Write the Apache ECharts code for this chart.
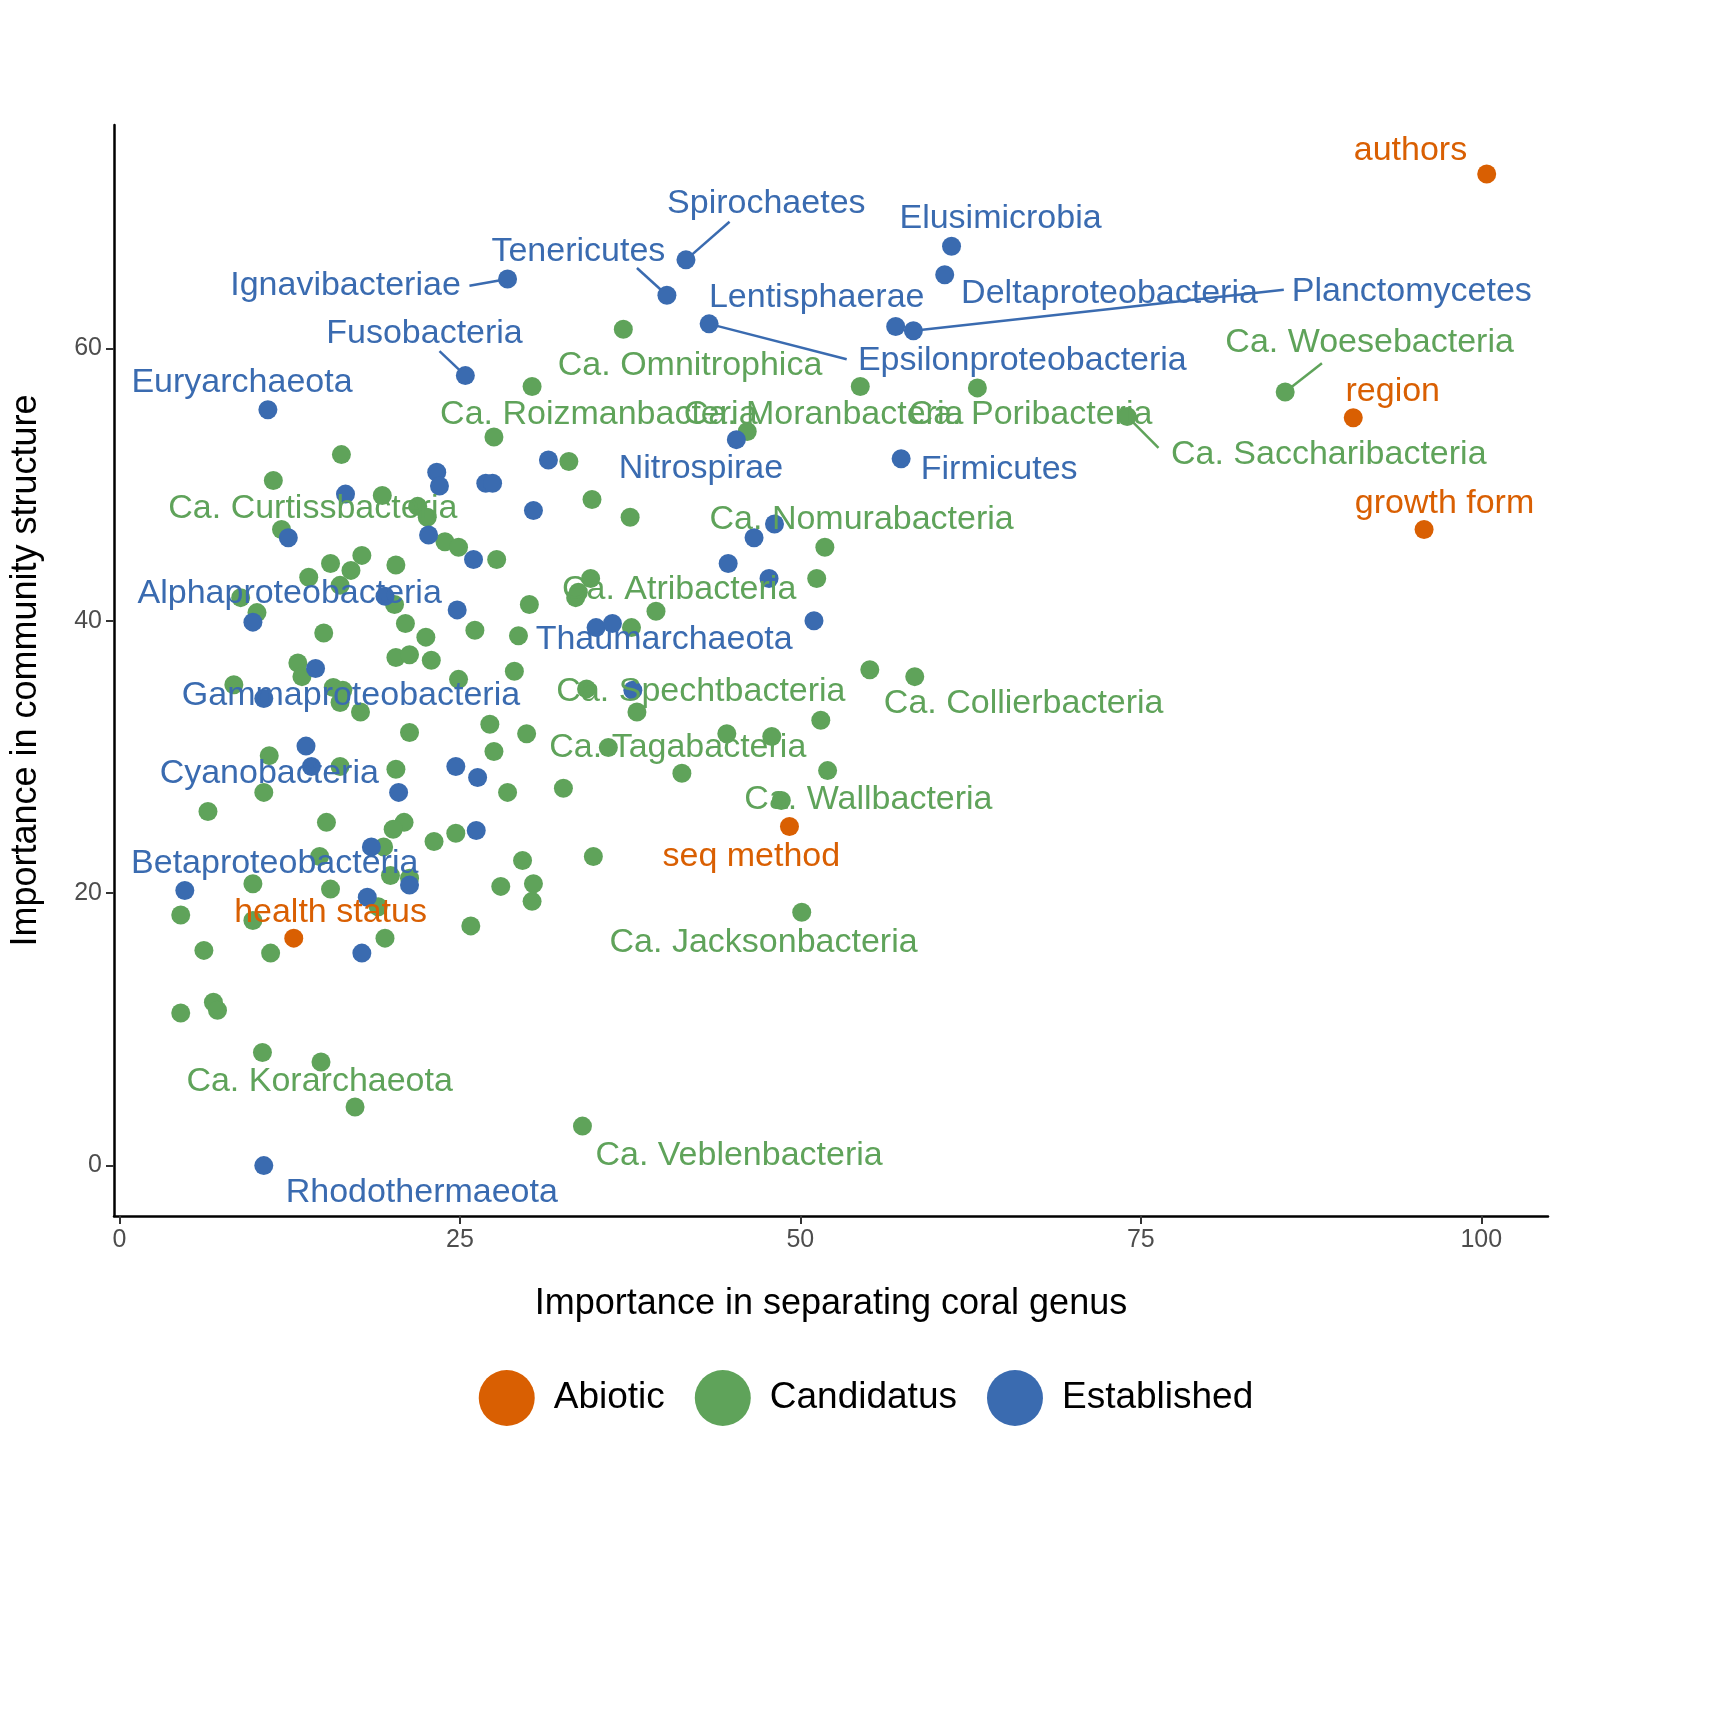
<!DOCTYPE html>
<html><head><meta charset="utf-8">
<script src="https://cdn.jsdelivr.net/npm/echarts@6/dist/echarts.min.js"></script>
<style>html,body{margin:0;background:#fff}#c{width:1732px;height:1732px}</style>
</head><body><div id="c"></div>
<script>
const groups = ['Abiotic', 'Candidatus', 'Established']
const colors = ['#D95F02', '#5FA35A', '#3A6BB0']

const abiotic = [[100.4,72.8],[90.6,54.9],[95.8,46.7],[49.2,24.9],[12.8,16.7]]
const established = [[41.6,66.5],[61.1,67.5],[40.2,63.9],[28.5,65.1],[60.6,65.4],[43.3,61.8],[58.3,61.3],[57.0,61.6],
  [25.4,58.0],[10.9,55.5],[45.3,53.3],[57.4,51.9],[31.5,51.8],[23.3,50.9],[23.5,49.9],[26.9,50.1],[27.4,50.1],
  [16.6,49.3],[30.4,48.1],[12.4,46.1],[22.7,46.3],[26.0,44.5],[46.6,46.1],[48.1,47.1],[44.7,44.2],[47.7,43.1],
  [24.8,40.8],[9.8,39.9],[19.5,41.8],[35.0,39.5],[36.2,39.8],[51.0,40.0],[14.4,36.5],[37.7,34.9],[10.6,34.3],
  [13.7,30.8],[14.1,29.3],[24.7,29.3],[26.3,28.5],[20.5,27.4],[26.2,24.6],[18.5,23.4],[21.3,20.6],[4.8,20.2],
  [18.2,19.7],[17.8,15.6],[10.6,0]]
const candidatus = [[37.0,61.4],[30.3,57.2],[54.4,57.2],[63.0,57.1],[85.6,56.8],[74.0,55.0],[27.5,53.5],[46.1,53.9],
  [16.3,52.2],[33.0,51.7],[11.3,50.3],[19.3,49.2],[34.7,48.9],[21.9,48.4],[22.6,47.6],[37.5,47.6],[11.9,46.7],
  [51.8,45.4],[23.9,45.8],[24.9,45.4],[27.7,44.5],[15.5,44.2],[20.3,44.1],[17.8,44.8],[17.0,43.7],[13.9,43.2],
  [16.2,42.6],[34.6,43.1],[51.2,43.1],[33.7,42.1],[33.5,41.7],[8.9,41.7],[20.2,41.2],[30.1,41.2],[39.4,40.7],
  [10.1,40.6],[21.0,39.8],[26.1,39.3],[37.6,39.5],[15.0,39.1],[29.3,38.9],[22.5,38.8],[20.3,37.3],[21.3,37.5],
  [22.9,37.1],[13.1,36.9],[55.1,36.4],[29.0,36.3],[58.4,35.9],[13.4,35.9],[8.4,35.3],[24.9,35.7],[15.7,35.1],
  [16.4,34.9],[34.3,35.0],[16.2,34.0],[17.7,33.3],[38.0,33.3],[27.2,32.4],[51.5,32.7],[21.3,31.8],[44.6,31.7],
  [47.9,31.5],[29.9,31.7],[11.0,30.1],[27.5,30.4],[35.9,30.7],[16.2,29.3],[20.3,29.1],[52.0,29.0],[41.3,28.8],
  [10.6,27.4],[28.5,27.4],[32.6,27.7],[48.6,26.8],[6.5,26.0],[15.2,25.2],[20.9,25.2],[20.1,24.7],[24.7,24.4],
  [23.1,23.8],[19.4,23.4],[14.7,22.7],[34.8,22.7],[29.6,22.4],[19.9,21.3],[21.3,21.1],[30.4,20.7],[9.8,20.7],
  [15.5,20.3],[28.0,20.5],[30.3,19.4],[19.0,19.0],[4.5,18.4],[9.8,18.0],[50.1,18.6],[25.8,17.6],[19.5,16.7],
  [6.2,15.8],[11.1,15.6],[6.9,12.0],[7.2,11.4],[4.5,11.2],[10.5,8.3],[14.8,7.6],[17.3,4.3],[34.0,2.9]]

// [x, y, text, group index]
const labels = [
  [94.8,74.5,'authors',0],[93.5,56.8,'region',0],[97.3,48.6,'growth form',0],[46.4,22.7,'seq method',0],[15.5,18.6,'health status',0],
  [47.5,70.6,'Spirochaetes',2],[64.7,69.5,'Elusimicrobia',2],[33.7,67.1,'Tenericutes',2],[16.6,64.6,'Ignavibacteriae',2],
  [72.7,64.0,'Deltaproteobacteria',2],[51.2,63.7,'Lentisphaerae',2],[94.9,64.2,'Planctomycetes',2],[22.4,61.1,'Fusobacteria',2],
  [66.3,59.1,'Epsilonproteobacteria',2],[9.0,57.5,'Euryarchaeota',2],[42.7,51.2,'Nitrospirae',2],[64.6,51.1,'Firmicutes',2],
  [12.5,42.0,'Alphaproteobacteria',2],[40.0,38.6,'Thaumarchaeota',2],[17.0,34.5,'Gammaproteobacteria',2],[11.0,28.8,'Cyanobacteria',2],
  [11.4,22.2,'Betaproteobacteria',2],[22.2,-2.0,'Rhodothermaeota',2],
  [41.9,58.7,'Ca. Omnitrophica',1],[91.8,60.4,'Ca. Woesebacteria',1],[35.2,55.1,'Ca. Roizmanbacteria',1],[51.7,55.1,'Ca. Moranbacteria',1],
  [66.9,55.1,'Ca. Poribacteria',1],[88.8,52.2,'Ca. Saccharibacteria',1],[14.2,48.2,'Ca. Curtissbacteria',1],[54.5,47.4,'Ca. Nomurabacteria',1],
  [41.1,42.3,'Ca. Atribacteria',1],[42.7,34.8,'Ca. Spechtbacteria',1],[66.4,33.9,'Ca. Collierbacteria',1],[41.0,30.7,'Ca. Tagabacteria',1],
  [55.0,26.9,'Ca. Wallbacteria',1],[47.3,16.4,'Ca. Jacksonbacteria',1],[14.7,6.2,'Ca. Korarchaeota',1],[45.5,0.7,'Ca. Veblenbacteria',1]
]
// connector segments [x1, y1, x2, y2, group]
const segments = [
  [41.6,66.5,44.8,69.3,2],[40.2,63.9,38.0,65.9,2],[28.5,65.1,25.7,64.6,2],[25.4,58.0,23.5,59.8,2],
  [43.3,61.8,53.4,59.2,2],[58.3,61.3,85.5,64.3,2],[85.6,56.8,88.3,58.9,1],[74.0,55.0,76.3,52.7,1]
]
const xTicks = [0, 25, 50, 75, 100]
const yTicks = [0, 20, 40, 60]

const chart = echarts.init(document.getElementById('c'))
const font = 'Liberation Sans, Arial, sans-serif'

const pointSeries = [abiotic, candidatus, established].map((d, i) => ({
  name: groups[i], type: 'scatter', data: d, symbolSize: 19, z: 3,
  itemStyle: { color: colors[i], opacity: 1 }
}))

chart.setOption({
  animation: false,
  textStyle: { fontFamily: font },
  grid: { left: 112, right: 184, top: 125, bottom: 516 },
  xAxis: {
    type: 'value', min: -0.4, max: 104.9, interval: 25,
    name: 'Importance in separating coral genus', nameLocation: 'middle', nameGap: 70,
    nameTextStyle: { fontSize: 36, color: '#000' },
    axisLine: { onZero: false, lineStyle: { color: '#000', width: 2.5 } },
    axisTick: { show: true, length: 8, lineStyle: { color: '#333', width: 2 }, customValues: xTicks },
    axisLabel: { fontSize: 25, color: '#4d4d4d', margin: 12, customValues: xTicks, formatter: v => v },
    splitLine: { show: false }
  },
  yAxis: {
    type: 'value', min: -3.7, max: 76.4,
    name: 'Importance in community structure', nameLocation: 'middle', nameGap: 70,
    nameTextStyle: { fontSize: 36, color: '#000' },
    axisLine: { show: true, onZero: false, lineStyle: { color: '#000', width: 2.5 } },
    axisTick: { show: true, length: 8, lineStyle: { color: '#333', width: 2 }, customValues: yTicks },
    axisLabel: { fontSize: 25, color: '#4d4d4d', margin: 12, customValues: yTicks },
    splitLine: { show: false }
  },
  legend: {
    data: groups, top: 1365, left: 'center', icon: 'circle',
    itemWidth: 56, itemHeight: 56, itemGap: 30,
    textStyle: { fontSize: 37, color: '#000', padding: [0, 0, 0, 14] }
  },
  series: [
    ...pointSeries,
    {
      type: 'lines', coordinateSystem: 'cartesian2d', silent: true, z: 2,
      data: segments.map(s => ({ coords: [[s[0], s[1]], [s[2], s[3]]], lineStyle: { color: colors[s[4]] } })),
      lineStyle: { width: 2.5, opacity: 1 }
    },
    {
      type: 'scatter', symbolSize: 0, silent: true, z: 4,
      itemStyle: { opacity: 1 },
      data: labels.map(l => ({
        value: [l[0], l[1]],
        label: { show: true, position: 'inside', formatter: l[2], color: colors[l[3]], opacity: 1, fontSize: 34 }
      }))
    }
  ]
})
</script></body></html>
